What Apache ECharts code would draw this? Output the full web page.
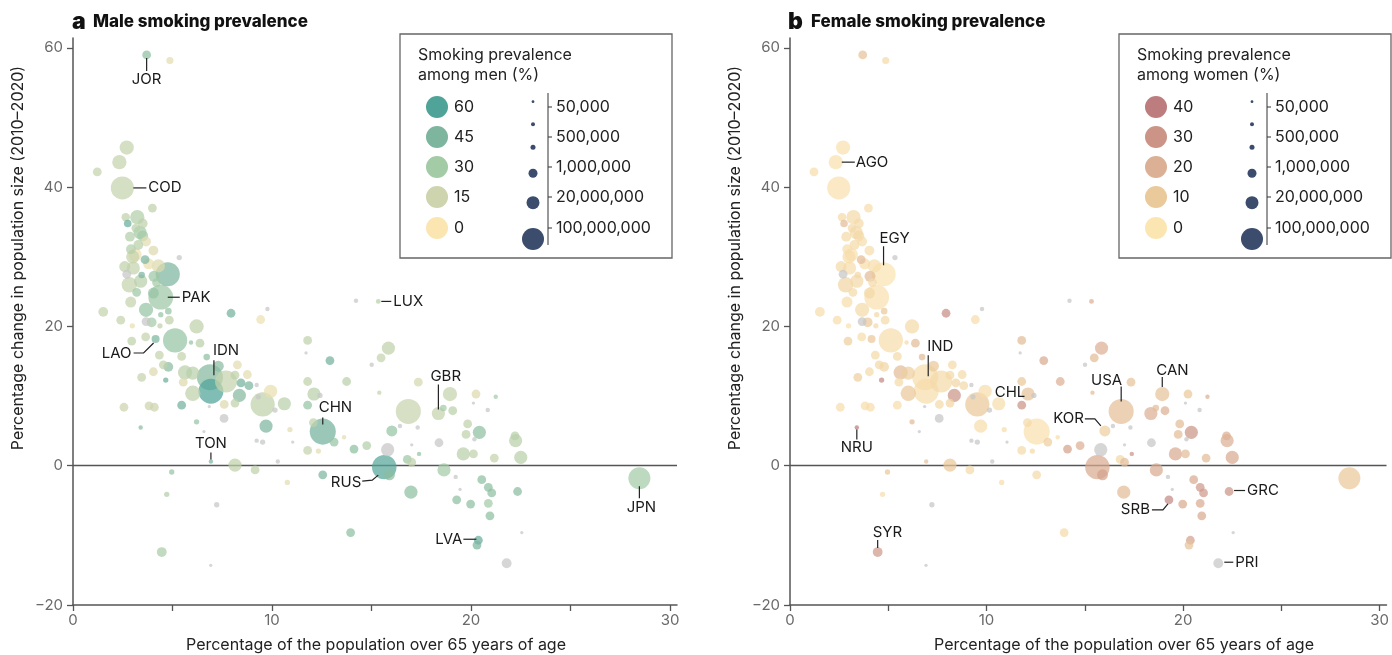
<!DOCTYPE html>
<html><head><meta charset="utf-8">
<script src="https://cdn.jsdelivr.net/npm/echarts@6/dist/echarts.min.js"></script>
<style>html,body{margin:0;padding:0;background:#fff}#c{width:1392px;height:655px}</style>
</head><body><div id="c"></div><script>
// ---- data ----
const age65 = [3.70,4.87,2.70,2.33,1.22,2.48,3.99,2.65,3.23,2.75,3.15,3.37,2.86,3.67,3.28,2.91,4.04,3.12,3.62,5.34,4.29,4.76,2.70,3.03,3.45,4.07,2.83,3.20,4.41,4.04,3.67,1.52,2.40,2.98,4.41,4.79,4.84,3.67,3.95,4.37,7.94,9.43,9.77,6.21,2.95,3.65,4.15,5.13,4.34,4.54,4.79,3.45,4.04,4.66,5.46,5.63,6.02,5.54,6.02,6.38,5.93,6.72,8.26,6.88,6.93,7.69,7.30,8.14,8.44,8.84,8.76,8.36,9.93,9.53,10.62,9.31,10.15,7.60,5.46,2.56,3.82,4.09,6.85,3.40,6.21,6.58,7.59,9.70,9.23,9.53,10.90,11.04,11.79,11.71,12.91,11.79,12.11,12.41,13.75,11.79,12.55,12.08,13.12,13.62,12.33,11.79,14.12,14.76,14.22,15.34,15.85,15.48,15.01,15.39,16.02,15.81,15.64,8.14,9.15,6.93,10.29,4.96,4.71,7.22,4.46,6.92,10.77,12.55,13.95,17.35,18.36,18.94,18.61,19.08,20.25,20.12,21.24,20.84,16.85,16.43,17.32,17.02,17.39,16.80,17.02,18.39,19.83,20.42,19.75,20.17,19.61,20.12,21.17,22.21,22.24,22.50,15.90,16.98,18.64,19.23,19.45,20.54,20.87,21.04,19.28,19.98,20.87,20.95,22.34,20.37,20.30,22.55,21.79,28.46,8.14,9.23,3.50,3.00,3.80,2.60,3.40,4.20,2.90,3.50];
const popChange = [59.0,58.2,45.7,43.6,42.2,39.9,37.0,35.7,35.7,34.8,34.1,33.5,32.9,32.2,31.7,31.1,30.9,30.3,29.6,29.9,28.7,27.5,27.5,28.4,27.4,27.2,26.0,24.9,24.2,24.8,22.4,22.1,20.9,20.1,21.7,22.2,20.9,20.7,20.6,20.1,21.9,21.0,22.5,20.0,17.9,18.5,18.2,18.0,15.9,14.5,14.2,12.7,13.5,12.3,15.7,13.4,13.3,12.0,10.4,17.6,17.7,15.6,14.5,12.7,10.7,12.1,14.3,13.0,11.9,11.5,13.1,10.1,10.7,8.8,8.9,9.9,8.0,8.8,8.7,8.4,8.6,8.4,8.5,5.5,6.3,4.9,6.8,5.7,3.6,3.4,5.2,3.4,18.0,16.2,15.1,12.1,10.3,10.1,12.1,8.7,4.9,6.2,3.4,4.1,2.1,2.2,2.4,2.9,23.7,23.6,16.9,15.5,14.5,10.5,5.0,2.3,-0.2,0.1,-0.6,0.6,0.6,-0.9,-4.1,-5.6,-12.4,-14.3,-2.4,-1.3,-9.6,12.0,7.5,10.3,8.3,7.9,10.3,9.0,9.9,8.0,7.8,5.7,5.5,3.0,1.7,0.9,0.5,3.3,6.0,4.8,4.5,3.8,1.7,1.7,1.1,4.3,3.6,1.2,-1.3,-3.8,-0.6,-1.6,-3.4,-2.0,-3.1,-3.9,-4.9,-5.5,-5.4,-7.2,-3.7,-10.7,-11.4,-9.6,-14.0,-1.8,9.0,11.6,34.8,30.0,29.0,28.6,26.5,26.3,23.5,33.0];
const popMillions = [9,5,30,30,9,90,9,8,30,6,8,25,12,12,12,12,12,25,9,2,25,100,9,25,4,16,36,9,220,16,30,12,9,2,2,4,9,9,12,2,9,9,1,30,9,9,7,100,9,9,12,9,9,2,9,30,25,9,36,9,1,4,9,1380,270,81,16,9,9,9,9,25,25,100,25,2,2,9,9,9,9,9,0.25,1,2,0.25,9,25,1,2,2,0.25,9,0.25,9,9,25,2,9,9,1400,9,9,1,2,9,9,9,1,1.5,25,9,1,1,16,25,145,25,9,1,1,2,2,2,12,0.25,2,9,9,9,25,30,4,9,9,0.25,1,1,330,1,1,0.25,1,9,9,9,9,25,9,1,25,9,9,9,25,25,16,25,25,1,0.25,9,9,9,9,9,9,9,9,9,9,0.25,12,81,9,1,12,25,16,16,25,9,16,16];
const maleRate = [38,8,18,18,18,18,20,20,25,52,22,30,25,8,22,25,10,4,45,null,10,45,null,18,45,32,18,32,32,35,35,18,18,6,35,35,20,null,30,20,48,5,null,20,20,18,45,35,18,20,40,18,10,50,18,22,22,10,20,22,35,38,8,42,62,18,40,20,48,45,8,42,6,20,22,null,null,10,48,15,15,15,null,40,35,null,null,45,null,null,8,null,20,null,48,20,22,null,22,35,48,20,35,8,8,18,38,25,null,22,20,18,null,18,35,null,58,20,20,45,null,35,25,null,28,null,8,45,38,12,18,18,30,22,10,null,30,null,17,null,null,null,35,32,20,null,20,38,20,null,22,20,18,22,22,22,40,38,30,null,null,38,38,38,38,38,30,38,40,52,45,null,null,30,20,null,20,18,6,20,22,30,18,30];
const femaleRate = [12,4,2,2,3,2,3,4,4,15,5,4,4,3,4,3,3,2,15,null,3,1,null,3,5,15,6,4,2,5,4,3,3,2,5,10,4,null,10,4,32,3,null,4,8,3,10,3,4,5,6,8,4,35,4,15,8,4,10,15,4,15,4,3,3,4,10,5,6,5,4,30,3,10,3,null,null,4,3,3,3,3,null,45,15,null,null,3,null,null,3,null,15,null,22,10,12,null,20,30,2,4,8,3,4,4,25,20,null,20,20,15,null,15,8,null,22,10,4,12,null,10,3,null,28,null,3,4,4,12,20,12,15,20,10,null,20,null,14,null,null,null,30,5,15,null,15,30,15,null,22,15,15,20,20,22,25,15,22,null,null,22,28,28,35,22,22,22,30,25,12,null,null,10,6,null,4,3,3,4,5,4,3,5];
// country codes of the labelled points (index into the arrays above)
const labelledCountries = {JOR:0, AGO:3, COD:5, EGY:21, PAK:28, LAO:46, IND:63, IDN:64, CHL:74, NRU:83, CHN:100, LUX:109, KOR:114, RUS:116, TON:119, SYR:124, GBR:130, CAN:131, USA:138, SRB:164, GRC:168, LVA:169, PRI:172, JPN:173};
const maleLegendTicks = [60,45,30,15,0];
const femaleLegendTicks = [40,30,20,10,0];
const sizeLegendLabels = ['50,000','500,000','1,000,000','20,000,000','100,000,000'];
const xLabelVals = [0,10,20,30], xTickVals = [0,5,10,15,20,25,30], yVals = [-20,0,20,40,60];

// ---- styles ----
const GREY = '#c6c6c6';
const maleStops = [[0,'#fbe6b2'],[15,'#cdd4ae'],[30,'#a3cba6'],[45,'#7db59f'],[60,'#4fa398']];
const femaleStops = [[0,'#fbe6b2'],[10,'#eac99b'],[20,'#dcb095'],[30,'#cb9487'],[40,'#bd7d7f']];
const FONT = 'Inter, "Noto Sans", sans-serif';
function hex2rgb(h){return [1,3,5].map(k=>parseInt(h.slice(k,k+2),16));}
function colorFor(stops, v){
  if (v == null) return GREY;
  if (v <= stops[0][0]) return stops[0][1];
  for (let k=1;k<stops.length;k++){
    if (v <= stops[k][0]){
      const t=(v-stops[k-1][0])/(stops[k][0]-stops[k-1][0]);
      const a=hex2rgb(stops[k-1][1]), b=hex2rgb(stops[k][1]);
      return 'rgb('+a.map((c,j)=>Math.round(c+(b[j]-c)*t)).join(',')+')';
    }
  }
  return stops[stops.length-1][1];
}
const sizeOf = p => 1.1 * (p <= 100 ? 2 + 20*Math.sqrt(p/100) : 22 + 1.5*Math.log10(p/100));

function points(rates, stops){
  const order = age65.map((_,i)=>i).sort((a,b)=>popMillions[b]-popMillions[a]);
  return order.map(i=>({value:[age65[i], popChange[i], popMillions[i]], itemStyle:{color:colorFor(stops, rates[i])}}));
}

// annotation styling (pixel offsets from the point)
const annA = [
  {c:'JOR', line:[[0,3],[0,16]], t:[0,25], align:'center'},
  {c:'COD', line:[[11,0],[24,0]], t:[26,0], align:'left'},
  {c:'PAK', line:[[7,0],[19,0]], t:[21,0], align:'left'},
  {c:'LAO', line:[[-2,4],[-12,14],[-22,14]], t:[-24,14], align:'right'},
  {c:'IDN', line:[[3,-16],[3,-31]], t:[2,-41], align:'left'},
  {c:'TON', line:[[0,-2],[0,-9]], t:[0,-18], align:'center'},
  {c:'CHN', line:[[0,-7],[0,-14]], t:[-4,-24], align:'left'},
  {c:'RUS', line:[[-6,8],[-12,13],[-22,14]], t:[-23,15], align:'right'},
  {c:'LUX', line:[[3,0],[13,0]], t:[15,0], align:'left'},
  {c:'GBR', line:[[0,-4],[0,-29]], t:[-8,-37], align:'left'},
  {c:'LVA', line:[[-2,-1],[-15,-1]], t:[-16,-1], align:'right'},
  {c:'JPN', line:[[0,8],[0,20]], t:[2,29], align:'center'}
];
const annB = [
  {c:'AGO', line:[[6,0],[19,0]], t:[20,0], align:'left'},
  {c:'EGY', line:[[0,-9],[0,-28]], t:[-4,-36], align:'left'},
  {c:'IND', line:[[3,-1],[3,-22]], t:[2,-31], align:'left'},
  {c:'NRU', line:[[0,2],[0,12]], t:[0,20], align:'center'},
  {c:'CHL', line:null, t:[-4,-11], align:'left'},
  {c:'KOR', line:[[-4,-5],[-10,-12],[-20,-12]], t:[-21,-12], align:'right'},
  {c:'USA', line:[[0,-10],[0,-25]], t:[1,-31], align:'right'},
  {c:'CAN', line:[[0,-7],[0,-17]], t:[-6,-24], align:'left'},
  {c:'SRB', line:[[-1,4],[-6,10],[-17,10]], t:[-19,10], align:'right'},
  {c:'GRC', line:[[5,-1],[16,-1]], t:[18,-1], align:'left'},
  {c:'PRI', line:[[6,-1],[15,-1]], t:[17,-1], align:'left'},
  {c:'SYR', line:[[0,-4],[0,-12]], t:[-5,-20], align:'left'}
];
function annSeries(list, ai){
  return {type:'custom', xAxisIndex:ai, yAxisIndex:ai, silent:true, z:10, clip:false,
    encode:{x:0,y:1},
    data: list.map((a,k)=>{const i=labelledCountries[a.c]; return [age65[i], popChange[i], k];}),
    renderItem:(params, api)=>{
      const a = list[api.value(2)];
      const p = api.coord([api.value(0), api.value(1)]);
      const ch = [];
      if (a.line) ch.push({type:'polyline', shape:{points:a.line.map(o=>[p[0]+o[0],p[1]+o[1]])}, style:{stroke:'#222', lineWidth:1.2, fill:'none'}});
      ch.push({type:'text', x:p[0]+a.t[0], y:p[1]+a.t[1], style:{text:a.c, font:'15px '+FONT, fill:'#1a1a1a', align:a.align, verticalAlign:'middle'}});
      return {type:'group', children:ch};
    }};
}

function xAxis(gi){
  return {type:'value', gridIndex:gi, min:0, max:30.35,
    axisLine:{show:true, onZero:false, lineStyle:{color:'#555', width:1.5}},
    axisTick:{show:true, length:6, customValues:xTickVals, lineStyle:{color:'#555', width:1.3}},
    axisLabel:{customValues:xLabelVals, color:'#6a6a6a', fontSize:15, fontFamily:FONT, margin:8},
    splitLine:{show:false}};
}
function yAxis(gi){
  return {type:'value', gridIndex:gi, min:-20, max:61.43,
    axisLine:{show:true, onZero:false, lineStyle:{color:'#555', width:1.5}},
    axisTick:{show:true, length:6, customValues:yVals, lineStyle:{color:'#555', width:1.3}},
    axisLabel:{customValues:yVals, color:'#6a6a6a', fontSize:15, fontFamily:FONT, margin:10,
      formatter:v=> v<0 ? '\u2212'+Math.abs(v) : String(v)},
    splitLine:{show:false}};
}
function scatter(gi, rates, stops){
  return {type:'scatter', xAxisIndex:gi, yAxisIndex:gi, data:points(rates, stops),
    symbolSize:v=>sizeOf(v[2]), itemStyle:{opacity:0.72}, silent:true, z:3,
    markLine:{silent:true, symbol:'none', label:{show:false}, data:[{yAxis:0}],
      lineStyle:{color:'#555', width:1.3, type:'solid'}, z:2}};
}

function legend(dx, title2, ticks, stops){
  const els = [];
  els.push({type:'rect', shape:{x:400+dx, y:34, width:272, height:224}, style:{fill:'#fff', stroke:'#666', lineWidth:1.3}, z:20});
  els.push({type:'text', x:418+dx, y:55, style:{text:'Smoking prevalence', font:'16px '+FONT, fill:'#222', verticalAlign:'middle'}, z:21});
  els.push({type:'text', x:418+dx, y:75, style:{text:title2, font:'16px '+FONT, fill:'#222', verticalAlign:'middle'}, z:21});
  const cy = [107,137,167,197,228];
  ticks.forEach((v,k)=>{
    els.push({type:'circle', shape:{cx:437+dx, cy:cy[k], r:11}, style:{fill:colorFor(stops, v)}, z:21});
    els.push({type:'text', x:454+dx, y:cy[k], style:{text:String(v), font:'16px '+FONT, fill:'#222', verticalAlign:'middle'}, z:21});
  });
  const sy = [101.7,124.3,147.3,173.3,202.7,239], sr = [1.4,2,2.5,4.5,6.5,11];
  sy.forEach((y,k)=>els.push({type:'circle', shape:{cx:533+dx, cy:y, r:sr[k]}, style:{fill:'#3b4c6c'}, z:21}));
  els.push({type:'line', shape:{x1:548+dx, y1:93, x2:548+dx, y2:245}, style:{stroke:'#333', lineWidth:1}, z:21});
  sizeLegendLabels.forEach((s,k)=>{
    els.push({type:'line', shape:{x1:548+dx, y1:cy[k], x2:552+dx, y2:cy[k]}, style:{stroke:'#333', lineWidth:1}, z:21});
    els.push({type:'text', x:556+dx, y:cy[k], style:{text:s, font:'16px '+FONT, fill:'#222', verticalAlign:'middle'}, z:21});
  });
  return els;
}

const graphics = [
  {type:'text', x:72, y:22, style:{text:'a', font:'900 23px '+FONT, fill:'#111', verticalAlign:'middle'}},
  {type:'text', x:93, y:22, style:{text:'Male smoking prevalence', font:'800 17px '+FONT, fill:'#111', verticalAlign:'middle'}},
  {type:'text', x:788, y:22, style:{text:'b', font:'900 23px '+FONT, fill:'#111', verticalAlign:'middle'}},
  {type:'text', x:811, y:22, style:{text:'Female smoking prevalence', font:'800 17px '+FONT, fill:'#111', verticalAlign:'middle'}},
  {type:'text', x:18, y:258, rotation:Math.PI/2, style:{text:'Percentage change in population size (2010\u20132020)', font:'16px '+FONT, fill:'#222', align:'center', verticalAlign:'middle'}},
  {type:'text', x:735, y:258, rotation:Math.PI/2, style:{text:'Percentage change in population size (2010\u20132020)', font:'16px '+FONT, fill:'#222', align:'center', verticalAlign:'middle'}},
  {type:'text', x:376, y:645, style:{text:'Percentage of the population over 65 years of age', font:'16px '+FONT, fill:'#222', align:'center', verticalAlign:'middle'}},
  {type:'text', x:1124, y:645, style:{text:'Percentage of the population over 65 years of age', font:'16px '+FONT, fill:'#222', align:'center', verticalAlign:'middle'}},
  ...legend(0, 'among men (%)', maleLegendTicks, maleStops),
  ...legend(719, 'among women (%)', femaleLegendTicks, femaleStops)
];

const chart = echarts.init(document.getElementById('c'), null, {renderer:'canvas'});
chart.setOption({
  animation:false,
  backgroundColor:'#fff',
  grid:[{left:73, top:38, width:604, height:567}, {left:790, top:38, width:600, height:567}],
  xAxis:[xAxis(0), xAxis(1)],
  yAxis:[yAxis(0), yAxis(1)],
  series:[scatter(0, maleRate, maleStops), scatter(1, femaleRate, femaleStops), annSeries(annA,0), annSeries(annB,1)],
  graphic: graphics
});
</script></body></html>
